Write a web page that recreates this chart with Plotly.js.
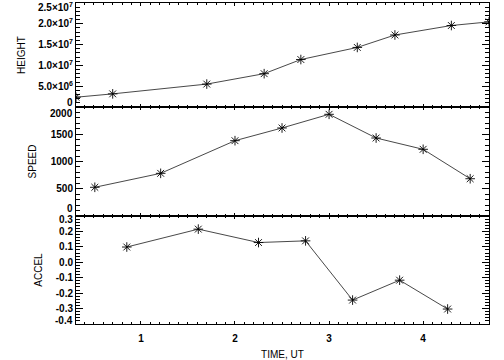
<!DOCTYPE html>
<html><head><meta charset="utf-8">
<script src="https://cdn.plot.ly/plotly-3.0.1.min.js"></script>
<style>html,body{margin:0;padding:0;background:#fff}#chart{width:504px;height:360px}</style>
</head><body><div id="chart"></div>
<script>
// Data
const heightTime = [0.31, 0.70, 1.70, 2.31, 2.70, 3.30, 3.70, 4.30, 4.70];
const heightValues = [2.35e6, 3.16e6, 5.51e6, 8.01e6, 11.41e6, 14.32e6, 17.31e6, 19.59e6, 20.46e6];
const speedTime = [0.51, 1.21, 2.00, 2.50, 3.00, 3.50, 4.00, 4.50];
const speedValues = [527, 783, 1382, 1615, 1866, 1431, 1224, 684];
const accelTime = [0.85, 1.61, 2.25, 2.75, 3.25, 3.75, 4.26];
const accelValues = [0.099, 0.215, 0.128, 0.139, -0.245, -0.116, -0.303];

const timeTicks = [1, 2, 3, 4];
const heightTickVals = [0, 5e6, 1e7, 1.5e7, 2e7, 2.5e7];
const heightTickText = ['0', '5.0×10<sup>6</sup>', '1.0×10<sup>7</sup>', '1.5×10<sup>7</sup>', '2.0×10<sup>7</sup>', '2.5×10<sup>7</sup>'];
const speedTickVals = [0, 500, 1000, 1500, 2000];
const speedTickText = ['0', '500', '1000', '1500', '2000'];
const accelTickVals = [-0.4, -0.3, -0.2, -0.1, 0.0, 0.1, 0.2, 0.3];
const accelTickText = ['-0.4', '-0.3', '-0.2', '-0.1', '0.0', '0.1', '0.2', '0.3'];

const xRange = [Math.min(...heightTime), Math.max(...heightTime)];

const font = {family: 'Liberation Sans, Arial, sans-serif', size: 10, color: '#000'};
const tickFont = {family: 'Liberation Sans, Arial, sans-serif', size: 10, color: '#000', weight: 'bold'};

const lineStyle = {color: '#333', width: 0.9};
const markerStyle = {symbol: 'asterisk-open', size: 8, color: '#000', line: {color: '#111', width: 0.9}};

const traces = [
  {x: heightTime, y: heightValues, xaxis: 'x', yaxis: 'y', mode: 'lines+markers', line: lineStyle, marker: markerStyle, showlegend: false},
  {x: speedTime, y: speedValues, xaxis: 'x2', yaxis: 'y2', mode: 'lines+markers', line: lineStyle, marker: markerStyle, showlegend: false},
  {x: accelTime, y: accelValues, xaxis: 'x3', yaxis: 'y3', mode: 'lines+markers', line: lineStyle, marker: markerStyle, showlegend: false}
];

function xAxis(anchor, labels, title) {
  const a = {
    anchor: anchor, range: xRange, domain: [0, 1],
    tickvals: timeTicks, ticks: 'inside', ticklen: 3, tickwidth: 1, tickcolor: '#000',
    mirror: 'allticks', showline: true, linecolor: '#000', linewidth: 1,
    showgrid: false, zeroline: false, showticklabels: labels, tickfont: tickFont,
    minor: {ticks: 'inside', ticklen: 2, tickwidth: 1, tickcolor: '#000', dtick: 0.1, tick0: 0, showgrid: false}
  };
  if (labels) { a.ticklabelstandoff = 5; }
  if (title) { a.title = {text: title, font: font, standoff: 11}; }
  return a;
}
// End labels (at the panel joins) are drawn as annotations, shifted inward like the reference;
// the inner labels are regular tick labels.
function yAxis(anchor, domain, range, vals, text, minorDtick, title, standoff) {
  return {
    anchor: anchor, domain: domain, range: range,
    tickvals: vals.slice(1, -1), ticktext: text.slice(1, -1),
    ticks: 'inside', ticklen: 7, tickwidth: 1, tickcolor: '#000',
    mirror: 'allticks', showline: true, linecolor: '#000', linewidth: 1,
    showgrid: false, zeroline: false, tickfont: tickFont,
    minor: {ticks: 'inside', ticklen: 4, tickwidth: 1, tickcolor: '#000', dtick: minorDtick, tick0: 0, showgrid: false},
    title: {text: title, font: font, standoff: standoff}
  };
}
function endLabel(yref, val, text, yshift) {
  return {xref: 'paper', x: 0, xanchor: 'right', xshift: -2, yref: yref, y: val, yanchor: 'middle',
          yshift: yshift, text: text, showarrow: false, font: tickFont, borderpad: 0};
}

const layout = {
  width: 504, height: 360,
  margin: {l: 76, r: 15, t: 3, b: 36},
  paper_bgcolor: '#fff', plot_bgcolor: '#fff',
  font: font,
  showlegend: false,
  xaxis: xAxis('y', false),
  xaxis2: xAxis('y2', false),
  xaxis3: xAxis('y3', true, 'TIME, UT'),
  yaxis: yAxis('x', [0.676, 1], [0, 2.5e7], heightTickVals, heightTickText, 1e6, 'HEIGHT', 10),
  yaxis2: yAxis('x2', [0.3364, 0.676], [0, 2000], speedTickVals, speedTickText, 100, 'SPEED', 12),
  yaxis3: yAxis('x3', [0, 0.3364], [-0.4, 0.3], accelTickVals, accelTickText, 0.02, 'ACCEL', 11),
  annotations: [
    endLabel('y', heightTickVals[0], heightTickText[0], 5),
    endLabel('y', heightTickVals[heightTickVals.length - 1], heightTickText[heightTickText.length - 1], -4),
    endLabel('y2', speedTickVals[0], speedTickText[0], 8),
    endLabel('y2', speedTickVals[speedTickVals.length - 1], speedTickText[speedTickText.length - 1], -6),
    endLabel('y3', accelTickVals[0], accelTickText[0], 3),
    endLabel('y3', accelTickVals[accelTickVals.length - 1], accelTickText[accelTickText.length - 1], -3)
  ]
};

Plotly.newPlot('chart', traces, layout, {staticPlot: true, displayModeBar: false});
</script>
</body></html>
